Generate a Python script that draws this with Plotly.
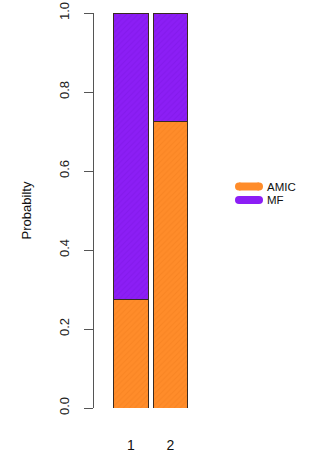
import plotly.graph_objects as go

categories = [1, 2]
amic = [0.275, 0.725]
mf = [0.725, 0.275]
series_names = ["AMIC", "MF"]
colors = ["#FF8C2A", "#8C1EF5"]
hatch = ["#F07C1C", "#7A14E0"]
y_ticks = [0.0, 0.2, 0.4, 0.6, 0.8, 1.0]
y_ticklabels = ["0.0", "0.2", "0.4", "0.6", "0.8", "1.0"]

fig = go.Figure()
for name, vals, col, hc in zip(series_names, [amic, mf], colors, hatch):
    fig.add_trace(go.Bar(
        x=categories, y=vals, name=name, width=0.873, showlegend=False,
        marker=dict(color=col, line=dict(color="#3a2a20", width=1),
                    pattern=dict(shape="/", fgcolor=hc, size=4, solidity=0.25)),
    ))

# manual legend (plot area spans x 94..200 px, y 13..408 px)
def px_x(p):
    return (p - 94) / 106.0

def px_y(p):
    return (408 - p) / 395.0

for i, (name, col) in enumerate(zip(series_names, colors)):
    yy = 186.5 + 13.5 * i
    fig.add_shape(type="line", xref="paper", yref="paper",
                  x0=px_x(239), x1=px_x(259), y0=px_y(yy), y1=px_y(yy),
                  line=dict(color=col, width=8))
    for cx in (239, 259):
        fig.add_shape(type="circle", xref="paper", yref="paper",
                      x0=px_x(cx - 4), x1=px_x(cx + 4),
                      y0=px_y(yy + 4), y1=px_y(yy - 4),
                      line=dict(width=0), fillcolor=col)
    fig.add_annotation(text=name, xref="paper", yref="paper",
                       x=px_x(266), y=px_y(yy), xanchor="left", yanchor="middle",
                       showarrow=False, font=dict(size=11.5, color="#111"),
                       borderpad=0)

fig.update_layout(
    barmode="stack",
    width=332, height=456,
    margin=dict(l=94, r=132, t=13, b=48, autoexpand=False),
    plot_bgcolor="white", paper_bgcolor="white",
    font=dict(family="Liberation Sans, Arial", size=13, color="#222"),
    showlegend=False,
    xaxis=dict(range=[0.063, 2.747], tickvals=categories,
               ticktext=[str(c) for c in categories],
               showline=False, ticks="", showgrid=False, zeroline=False,
               automargin=False,
               ticklabelstandoff=27, tickfont=dict(size=14, color="#111")),
    yaxis=dict(range=[0, 1], tickvals=y_ticks, ticktext=y_ticklabels,
               tickangle=-90, showline=True, linecolor="#555", linewidth=1,
               ticks="outside", ticklen=9, tickcolor="#555",
               showgrid=False, zeroline=False, ticklabelstandoff=10,
               automargin=False,
               tickfont=dict(size=13, color="#222"),
               title=dict(text="Probabilty", standoff=22,
                          font=dict(size=13, color="#111"))),
)

fig.write_html("out.html")
